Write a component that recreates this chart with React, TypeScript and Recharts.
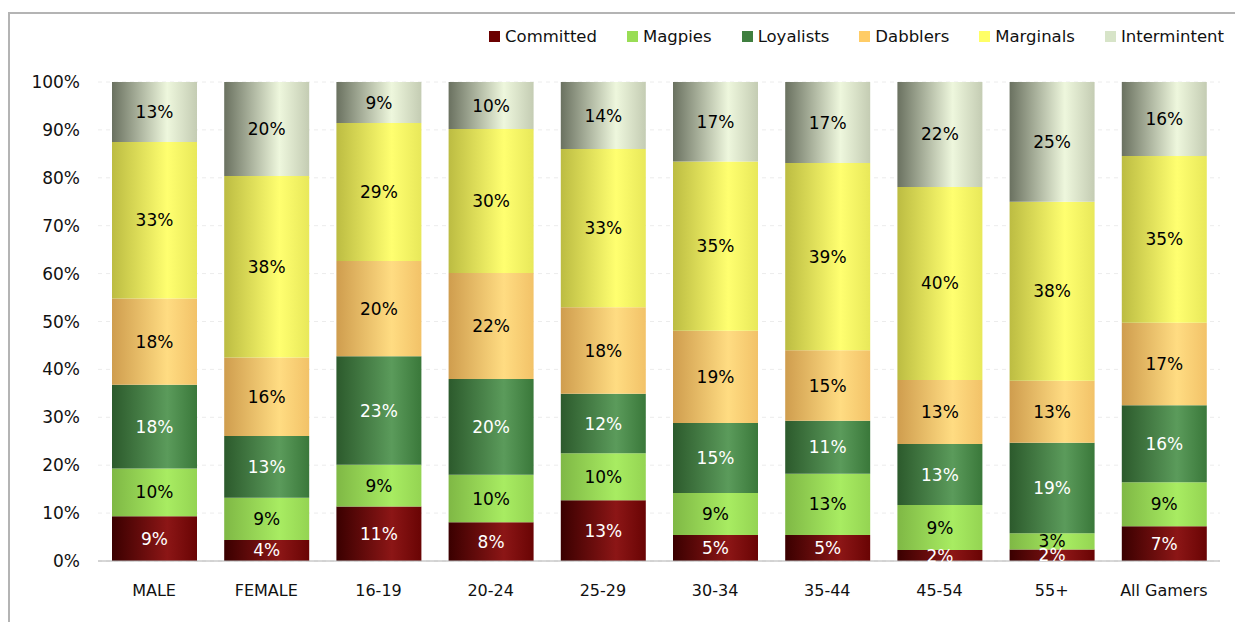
import React from "react";
import { BarChart, Bar, XAxis, YAxis, CartesianGrid, LabelList } from "recharts";

const categories = ["MALE", "FEMALE", "16-19", "20-24", "25-29", "30-34", "35-44", "45-54", "55+", "All Gamers"];

// shares in %, bottom segment first
const committed = [9.4, 4.4, 11.4, 8.1, 12.7, 5.4, 5.4, 2.3, 2.4, 7.3];
const magpies = [10.0, 8.8, 8.8, 9.9, 9.8, 8.8, 12.8, 9.4, 3.4, 9.2];
const loyalists = [17.6, 12.9, 22.7, 20.0, 12.4, 14.6, 11.0, 12.7, 19.0, 16.1];
const dabblers = [18.1, 16.4, 20.0, 22.1, 18.1, 19.2, 14.7, 13.4, 13.0, 17.3];
const marginals = [32.8, 37.9, 28.9, 30.1, 33.0, 35.3, 39.0, 40.3, 37.6, 34.9];
const intermintent = [12.6, 19.6, 8.6, 9.8, 14.0, 16.6, 16.9, 21.9, 25.1, 15.5];

const yTicks = [0, 0.1, 0.2, 0.3, 0.4, 0.5, 0.6, 0.7, 0.8, 0.9, 1];

const series = [
  { key: "committed", name: "Committed", values: committed, color: "#6b0000", grad: ["#3a0000", "#8c1616", "#690404"], text: "#fff" },
  { key: "magpies", name: "Magpies", values: magpies, color: "#99dd55", grad: ["#7fb845", "#a8ec62", "#94d452"], text: "#000" },
  { key: "loyalists", name: "Loyalists", values: loyalists, color: "#3f7f3f", grad: ["#2c5a2c", "#5b9b5b", "#3a783a"], text: "#fff" },
  { key: "dabblers", name: "Dabblers", values: dabblers, color: "#ffcc66", grad: ["#cf9d4e", "#ffdc82", "#f2c268"], text: "#000" },
  { key: "marginals", name: "Marginals", values: marginals, color: "#ffff66", grad: ["#bcbc42", "#ffff70", "#e8e85a"], text: "#000" },
  { key: "intermintent", name: "Intermintent", values: intermintent, color: "#d7e4c8", grad: ["#6a7160", "#eef7dd", "#c4ccb3"], text: "#000" },
];

const data = categories.map((name, i) => {
  const row: Record<string, string | number> = { name };
  series.forEach((s) => {
    row[s.key] = s.values[i];
  });
  return row;
});

const font = "'DejaVu Sans', Verdana, sans-serif";

export default function App() {
  return (
    <div
      style={{
        position: "relative",
        marginTop: 4,
        width: 1233,
        height: 608,
        borderTop: "2px solid #b4b4b4",
        borderLeft: "2px solid #b4b4b4",
        fontFamily: font,
      }}
    >
      <div
        style={{
          position: "absolute",
          top: 13,
          right: 19,
          display: "flex",
          gap: 30,
          fontSize: 16.5,
          color: "#111",
        }}
      >
        {series.map((s) => (
          <div key={s.key} style={{ display: "flex", alignItems: "center" }}>
            <span style={{ width: 11, height: 11, background: s.color, marginRight: 5, display: "inline-block" }} />
            <span>{s.name}</span>
          </div>
        ))}
      </div>
      <BarChart
        width={1231}
        height={608}
        data={data}
        stackOffset="expand"
        margin={{ top: 68, right: 21, left: 0, bottom: 21 }}
        style={{ position: "absolute", left: 0, top: 0 }}
      >
        <defs>
          {series.map((s) => (
            <linearGradient key={s.key} id={"g-" + s.key} x1="0" y1="0" x2="1" y2="0">
              <stop offset="0" stopColor={s.grad[0]} />
              <stop offset="0.65" stopColor={s.grad[1]} />
              <stop offset="1" stopColor={s.grad[2]} />
            </linearGradient>
          ))}
        </defs>
        <CartesianGrid vertical={false} stroke="#ececec" strokeDasharray="4 4" />
        <XAxis
          dataKey="name"
          height={40}
          tickLine={false}
          stroke="#b0b0b0"
          tickMargin={18}
          tick={{ fill: "#111", fontSize: 16, fontFamily: font }}
        />
        <YAxis
          width={88}
          domain={[0, 1]}
          ticks={yTicks}
          axisLine={false}
          tickLine={false}
          tickMargin={12}
          tickFormatter={(v: number) => Math.round(v * 100) + "%"}
          tick={{ fill: "#111", fontSize: 17, fontFamily: font }}
        />
        {series.map((s) => (
          <Bar key={s.key} dataKey={s.key} name={s.name} stackId="a" barSize={85} fill={`url(#g-${s.key})`} isAnimationActive={false}>
            <LabelList
              dataKey={s.key}
              position="center"
              formatter={(v: number) => Math.round(v) + "%"}
              style={{ fill: s.text, fontSize: 17, fontFamily: font }}
            />
          </Bar>
        ))}
      </BarChart>
    </div>
  );
}
